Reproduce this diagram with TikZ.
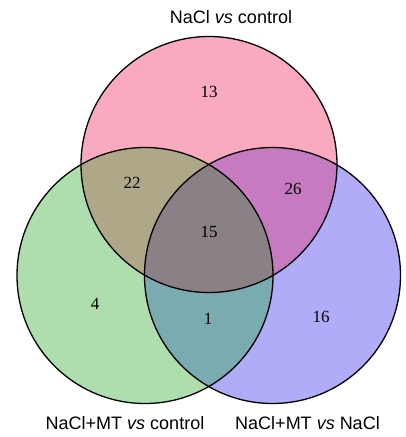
\documentclass[tikz,border=0pt]{standalone}
\usepackage{fontspec}
\setmainfont{Liberation Serif}
\newfontfamily\labelfont{Liberation Sans}
\definecolor{cpink}{HTML}{F9AABE}
\definecolor{cgreen}{HTML}{AEDDAE}
\definecolor{cblue}{HTML}{B0ACF8}
\definecolor{cpg}{HTML}{AEA788}
\definecolor{cpb}{HTML}{C67BC1}
\definecolor{cgb}{HTML}{79ABB1}
\definecolor{cpgb}{HTML}{898185}
\tikzset{
  setlabel/.style={font=\labelfont\fontsize{18pt}{20pt}\selectfont, inner sep=0pt},
  count/.style={font=\fontsize{17pt}{19pt}\selectfont, inner sep=0pt},
  ring/.style={draw=black, line width=1.3pt}
}
\begin{document}
\begin{tikzpicture}[x=1pt,y=-1pt]
\useasboundingbox[fill=white] (0,0) rectangle (406,437);
\coordinate (T) at (209,164.5);
\coordinate (L) at (145,275.5);
\coordinate (R) at (272.5,275.5);
\def\rad{128}
% base fills
\fill[cpink] (T) circle[radius=\rad];
\fill[cgreen] (L) circle[radius=\rad];
\fill[cblue] (R) circle[radius=\rad];
% pairwise
\begin{scope}
  \clip (T) circle[radius=\rad];
  \fill[cpg] (L) circle[radius=\rad];
  \fill[cpb] (R) circle[radius=\rad];
\end{scope}
\begin{scope}
  \clip (L) circle[radius=\rad];
  \fill[cgb] (R) circle[radius=\rad];
\end{scope}
\begin{scope}
  \clip (T) circle[radius=\rad];
  \clip (L) circle[radius=\rad];
  \fill[cpgb] (R) circle[radius=\rad];
\end{scope}
% outlines
\draw[ring] (T) circle[radius=\rad];
\draw[ring] (L) circle[radius=\rad];
\draw[ring] (R) circle[radius=\rad];
% labels
\node[setlabel] (lt) at (231,17) {NaCl \textit{vs} control};
\node[setlabel] (ll) at (125,423) {NaCl+MT \textit{vs} control};
\node[setlabel] (lr) at (307.5,423) {NaCl+MT \textit{vs} NaCl};
% counts
\node[count] (n13) at (209,92) {13};
\node[count] (n22) at (132,183) {22};
\node[count] (n26) at (293,189) {26};
\node[count] (n15) at (209,232) {15};
\node[count] (n4) at (95,304) {4};
\node[count] (n1) at (208,319) {1};
\node[count] (n16) at (321,317) {16};
\end{tikzpicture}
\end{document}
